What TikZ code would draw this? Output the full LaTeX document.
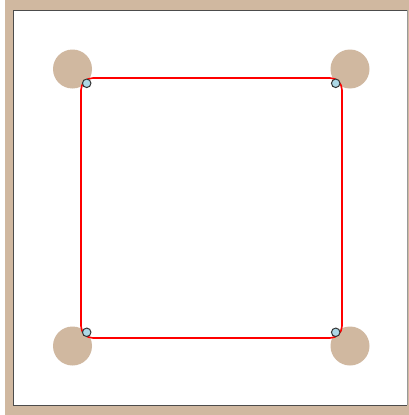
\documentclass[tikz,border=0pt]{standalone}
\definecolor{tan}{HTML}{D0B8A0}
\definecolor{pinblue}{HTML}{ADD8E6}

\begin{document}
\begin{tikzpicture}[x=1pt,y=-1pt,
  post/.style={circle,fill=tan,minimum size=39pt,inner sep=0pt},
  pin/.style={circle,draw=black!80,fill=pinblue,line width=1pt,minimum size=8.5pt,inner sep=0pt}]
\useasboundingbox (0,0) rectangle (409,415);
\fill[tan] (5,0) rectangle (409,415);
\fill[white] (13,10) rectangle (407,405);
\draw[black!70,line width=1pt] (13,405) -- (13,10) -- (407,10);
\draw[black!40,line width=1pt] (407,10) -- (407,405);
\draw[black!70,line width=1pt] (13,405) -- (407,405);
% corner posts
\node[post] (ptl) at (72.5,69) {};
\node[post] (ptr) at (350,69) {};
\node[post] (pbl) at (72.5,346) {};
\node[post] (pbr) at (350,346) {};
% red boundary
\draw[red,line width=1.6pt,rounded corners=12pt] (81,78) rectangle (342,338);
% pins
\node[pin] (atl) at (86.7,83.3) {};
\node[pin] (atr) at (335.7,83.3) {};
\node[pin] (abl) at (86.7,332.3) {};
\node[pin] (abr) at (335.7,332.3) {};
\end{tikzpicture}
\end{document}
